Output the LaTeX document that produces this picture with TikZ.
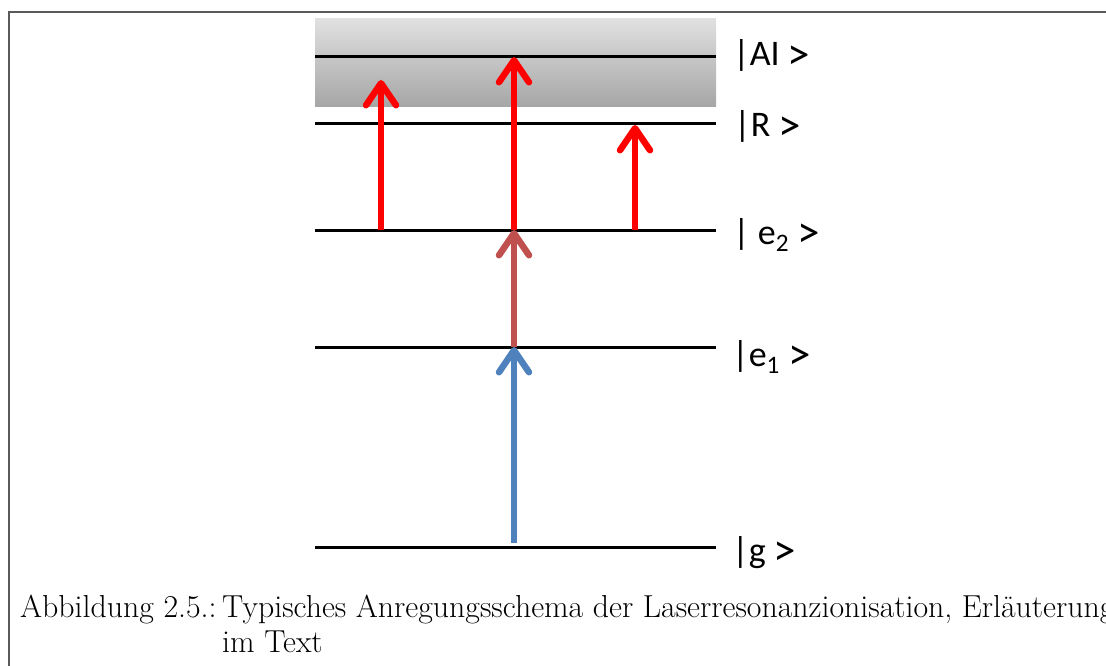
\documentclass[tikz,border=0pt]{standalone}
\usepackage{fontspec}
\usepackage{graphicx}
\newfontfamily\labfont{Carlito}
\usetikzlibrary{arrows.meta}
\definecolor{exred}{RGB}{255,0,0}
\definecolor{exbrown}{RGB}{192,80,77}
\definecolor{exblue}{RGB}{79,129,189}
\definecolor{framegray}{RGB}{90,90,90}
\newcommand{\ketgt}{\raisebox{-3.5pt}{\scalebox{1.25}{>}}}
\begin{document}
\begin{tikzpicture}[x=1pt,y=-1pt,
  level/.style={line width=3pt, black},
  exc/.style={line width=6.5pt, -{Straight Barb[length=22pt,width=30pt,round]}},
  lbl/.style={anchor=base west, inner sep=0pt, font=\labfont\fontsize{36}{42}\selectfont},
  captxt/.style={anchor=base west, inner sep=0pt, font=\fontsize{31.8}{35}\selectfont}]
\useasboundingbox (0,0) rectangle (1106,666);
% frame
\draw[framegray, line width=1.6pt] (9,680) -- (9,12) -- (1120,12);
% ionisation continuum
\shade[top color=gray!24, bottom color=gray!70] (315,19) rectangle (716,107);
% levels
\coordinate (AIl) at (315,57);  \coordinate (AIr) at (716,57);
\coordinate (Rl)  at (315,124); \coordinate (Rr)  at (716,124);
\coordinate (e2l) at (315,230); \coordinate (e2r) at (716,230);
\coordinate (e1l) at (315,347); \coordinate (e1r) at (716,347);
\coordinate (gl)  at (315,547); \coordinate (gr)  at (716,547);
\draw[level] (AIl) -- (AIr);
\draw[level] (Rl) -- (Rr);
\draw[level] (e2l) -- (e2r);
\draw[level] (e1l) -- (e1r);
\draw[level] (gl) -- (gr);
% labels
\node[lbl] (lAI) at (733,66) {|AI \ketgt};
\node[lbl] (lR)  at (734,137) {|R \ketgt};
\node[lbl] (le2) at (733,244) {| e\textsubscript{2} \ketgt};
\node[lbl] (le1) at (732,366) {|e\textsubscript{1} \ketgt};
\node[lbl] (lg)  at (732,562) {|g \ketgt};
% transition points
\coordinate (gA)   at (514,543);
\coordinate (e1A)  at (514,347);
\coordinate (e2A)  at (514,230);
\coordinate (AIA)  at (514,57);
\coordinate (e2L)  at (381,230);
\coordinate (cL)   at (381,80);
\coordinate (e2Rt) at (635,230);
\coordinate (RRt)  at (635,125);
% excitation arrows
\draw[exc, exblue]  (gA) -- (e1A);
\draw[exc, exbrown] (e1A) -- (e2A);
\draw[exc, exred]   (e2A) -- (AIA);
\draw[exc, exred]   (e2L) -- (cL);
\draw[exc, exred]   (e2Rt) -- (RRt);
% caption
\node[captxt] (capl) at (20,617) {Abbildung 2.5.:};
\node[captxt] (capt) at (222,617) {Typisches Anregungsschema der Laserresonanzionisation, Erläuterung};
\node[captxt] (capt2) at (222,652) {im Text};
\end{tikzpicture}
\end{document}
